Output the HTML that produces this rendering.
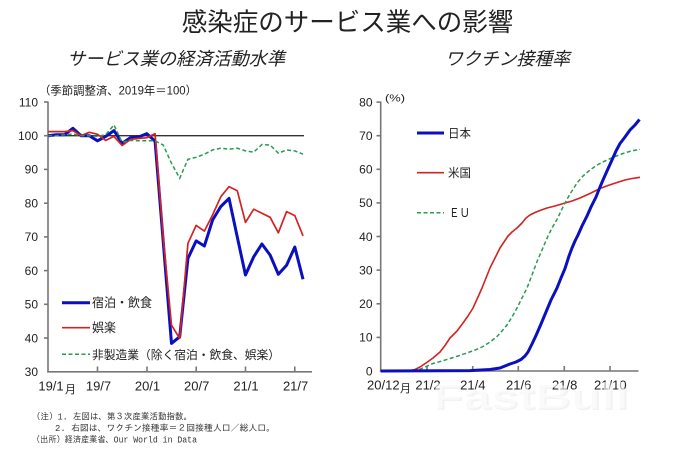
<!DOCTYPE html>
<html>
<head>
<meta charset="utf-8">
<style>
  html, body { margin:0; padding:0; background:#fff; }
  svg { display:block; }
  .num { font-family:"Liberation Sans", Arial, sans-serif; fill:#222; }
  .jp { font-family:"Liberation Sans", "Noto Sans CJK JP", sans-serif; fill:#222; }
  .mono { font-family:"Liberation Mono", "IPAGothic", monospace; fill:#333; }
</style>
</head>
<body>
<svg width="675" height="450" viewBox="0 0 675 450" xmlns="http://www.w3.org/2000/svg">
  <rect x="0" y="0" width="675" height="450" fill="#fff"/>

  <!-- Titles -->
  <text class="jp" x="347.5" y="31" font-size="25.5" text-anchor="middle" fill="#1a1a1a">感染症のサービス業への影響</text>
  <text class="jp" x="176" y="65" font-size="18" text-anchor="middle" font-style="italic" textLength="218" lengthAdjust="spacingAndGlyphs">サービス業の経済活動水準</text>
  <text class="jp" x="507.5" y="65" font-size="18" text-anchor="middle" font-style="italic" textLength="125" lengthAdjust="spacingAndGlyphs">ワクチン接種率</text>

  <!-- ============ LEFT CHART ============ -->
  <text class="jp" x="39" y="94.5" font-size="11.5" textLength="158" lengthAdjust="spacingAndGlyphs">（季節調整済、2019年＝100）</text>

  <!-- y labels -->
  <g class="num" font-size="12" text-anchor="end">
    <text x="38" y="106.3">110</text>
    <text x="38" y="140">100</text>
    <text x="38" y="173.7">90</text>
    <text x="38" y="207.5">80</text>
    <text x="38" y="241.2">70</text>
    <text x="38" y="274.9">60</text>
    <text x="38" y="308.6">50</text>
    <text x="38" y="342.3">40</text>
    <text x="38" y="376.1">30</text>
  </g>
  <!-- axes -->
  <g stroke="#777" stroke-width="1.6" fill="none">
    <line x1="48" y1="101.5" x2="48" y2="372.5"/>
    <line x1="47.2" y1="371.8" x2="312" y2="371.8"/>
    <!-- y ticks -->
    <line x1="44" y1="102" x2="48" y2="102"/>
    <line x1="44" y1="135.7" x2="48" y2="135.7"/>
    <line x1="44" y1="169.4" x2="48" y2="169.4"/>
    <line x1="44" y1="203.2" x2="48" y2="203.2"/>
    <line x1="44" y1="236.9" x2="48" y2="236.9"/>
    <line x1="44" y1="270.6" x2="48" y2="270.6"/>
    <line x1="44" y1="304.3" x2="48" y2="304.3"/>
    <line x1="44" y1="338" x2="48" y2="338"/>
    <!-- x ticks -->
    <line x1="97.5" y1="366.5" x2="97.5" y2="371.8"/>
    <line x1="147" y1="366.5" x2="147" y2="371.8"/>
    <line x1="196.2" y1="366.5" x2="196.2" y2="371.8"/>
    <line x1="245.5" y1="366.5" x2="245.5" y2="371.8"/>
    <line x1="294.8" y1="366.5" x2="294.8" y2="371.8"/>
  </g>
  <!-- x labels -->
  <g class="num" font-size="13" text-anchor="middle">
    <text x="51" y="390.5">19/1</text>
    <text x="98.5" y="390.5">19/7</text>
    <text x="147.5" y="390.5">20/1</text>
    <text x="196.7" y="390.5">20/7</text>
    <text x="246" y="390.5">21/1</text>
    <text x="295.6" y="390.5">21/7</text>
  </g>
  <text class="jp" x="65" y="393" font-size="11">月</text>

  <!-- 100 line -->
  <line x1="48" y1="135.7" x2="304" y2="135.7" stroke="#333" stroke-width="1.3"/>

  <!-- Blue: 宿泊・飲食 -->
  <polyline fill="none" stroke="#0a10c0" stroke-width="3" stroke-linejoin="round"
    points="48.2,135.7 56.42,134.7 64.64,134.7 72.86,128.3 81.08,135.7 89.3,135.7 97.52,140.8 105.74,136.4 113.96,130.6 122.18,143.4 130.4,137.7 138.62,137 146.84,133.7 155.06,141.1 163.28,242.3 171.5,343.4 179.72,336.7 187.94,258.4 196.16,240.9 204.38,246 212.6,220 220.82,206.5 229.04,198.4 237.26,236.9 245.48,275 253.7,256.8 261.92,244 270.14,255.1 278.36,274.3 286.58,265.2 294.8,247 303.02,279.3"/>
  <!-- Red: 娯楽 -->
  <polyline fill="none" stroke="#d42222" stroke-width="1.7" stroke-linejoin="round"
    points="48.2,131.6 56.42,131.6 64.64,131.6 72.86,130.6 81.08,135.7 89.3,132.3 97.52,134.3 105.74,140.4 113.96,136.4 122.18,145.5 130.4,139.4 138.62,138.4 146.84,137.7 155.06,133.7 163.28,238 171.5,325.2 179.72,338.4 187.94,243.3 196.16,225.4 204.38,231.1 212.6,214.9 220.82,196.7 229.04,186.6 237.26,190.7 245.48,222.4 253.7,209.2 261.92,213.3 270.14,217.3 278.36,232.8 286.58,211.6 294.8,215.6 303.02,235.8"/>
  <!-- Green dashed: 非製造業 -->
  <polyline fill="none" stroke="#2a9a52" stroke-width="1.5" stroke-dasharray="4 2.5"
    points="48.2,135.7 56.42,135.7 64.64,134.7 72.86,134 81.08,135.7 89.3,135.7 97.52,136.4 105.74,134.7 113.96,124.9 122.18,142.4 130.4,140.4 138.62,140.8 146.84,140.8 155.06,140.8 163.28,145.1 171.5,163.3 179.72,178.2 187.94,159.3 196.16,157.3 204.38,154.2 212.6,149.9 220.82,148.2 229.04,149.2 237.26,148.2 245.48,150.9 253.7,152.2 261.92,144.5 270.14,145.1 278.36,153.2 286.58,149.9 294.8,150.9 303.02,154.2"/>

  <!-- Left legend -->
  <line x1="62" y1="302.7" x2="90" y2="302.7" stroke="#0a10c0" stroke-width="3"/>
  <text class="jp" x="92" y="307.2" font-size="12.5" textLength="60" lengthAdjust="spacingAndGlyphs">宿泊・飲食</text>
  <line x1="62" y1="327.7" x2="90" y2="327.7" stroke="#d42222" stroke-width="1.7"/>
  <text class="jp" x="92" y="332.2" font-size="12.5" textLength="24" lengthAdjust="spacingAndGlyphs">娯楽</text>
  <line x1="62" y1="354.3" x2="90" y2="354.3" stroke="#2a9a52" stroke-width="1.5" stroke-dasharray="4 2.5"/>
  <text class="jp" x="92" y="358.8" font-size="12" textLength="188" lengthAdjust="spacingAndGlyphs">非製造業（除く宿泊・飲食、娯楽）</text>

  <!-- ============ RIGHT CHART ============ -->
  <text class="jp" x="385" y="101.5" font-size="10" textLength="20" lengthAdjust="spacingAndGlyphs">(%)</text>

  <g class="num" font-size="12" text-anchor="end">
    <text x="372.5" y="106.4">80</text>
    <text x="372.5" y="140">70</text>
    <text x="372.5" y="173.6">60</text>
    <text x="372.5" y="207.2">50</text>
    <text x="372.5" y="240.8">40</text>
    <text x="372.5" y="274.4">30</text>
    <text x="372.5" y="308.1">20</text>
    <text x="372.5" y="341.7">10</text>
    <text x="372.5" y="375.3">0</text>
  </g>
  <g stroke="#777" stroke-width="1.6" fill="none">
    <line x1="380.7" y1="101.5" x2="380.7" y2="371.8"/>
    <line x1="379.9" y1="371" x2="638.5" y2="371"/>
    <line x1="376.5" y1="102.1" x2="380.7" y2="102.1"/>
    <line x1="376.5" y1="135.7" x2="380.7" y2="135.7"/>
    <line x1="376.5" y1="169.3" x2="380.7" y2="169.3"/>
    <line x1="376.5" y1="202.9" x2="380.7" y2="202.9"/>
    <line x1="376.5" y1="236.5" x2="380.7" y2="236.5"/>
    <line x1="376.5" y1="270.1" x2="380.7" y2="270.1"/>
    <line x1="376.5" y1="303.8" x2="380.7" y2="303.8"/>
    <line x1="376.5" y1="337.4" x2="380.7" y2="337.4"/>
    <line x1="427" y1="366" x2="427" y2="371"/>
    <line x1="472.7" y1="366" x2="472.7" y2="371"/>
    <line x1="518.3" y1="366" x2="518.3" y2="371"/>
    <line x1="564.3" y1="366" x2="564.3" y2="371"/>
    <line x1="610" y1="366" x2="610" y2="371"/>
  </g>
  <g class="num" font-size="13" text-anchor="middle">
    <text x="383.3" y="389.5">20/12</text>
    <text x="428" y="389.5">21/2</text>
    <text x="472.8" y="389.5">21/4</text>
    <text x="518.7" y="389.5">21/6</text>
    <text x="564.7" y="389.5">21/8</text>
    <text x="610.3" y="389.5">21/10</text>
  </g>
  <text class="jp" x="400" y="392" font-size="11">月</text>

  <!-- US red -->
  <polyline fill="none" stroke="#d42222" stroke-width="1.6" stroke-linejoin="round"
    points="380.7,371 405,371 410,370.5 415,369.5 420,367 426,363 433,358 440,352 445,345.5 450,338 457,331 463,323 468,316 473,308 478,297 482,288 486,278 490,268 495,258 500,248 504,242 508,236 512,232 517,228 522,223 526,218 530,215 535,212.5 540,210.5 547,208 555,206 565,203 572,201 580,198 590,193.5 600,188.5 608,185.5 617,182.5 625,180 632,178.5 640,177.3"/>
  <!-- EU green dashed -->
  <polyline fill="none" stroke="#2a9a52" stroke-width="1.5" stroke-dasharray="4 2.5"
    points="400,371 417,370.5 425,367 433,363.5 442,361 450,358.5 458,356 467,353 475,350 483,346.5 490,342 497,336.5 502,331 507,325 512,317 517,308 522,298 527,288 532,275 537,261.5 542,250 548,236 552,228 557,219.5 561,211 565,203 570,194 577,183 583,176 590,170 598,164.5 607,160 615,156.5 623,153.5 631,151 640,149.3"/>
  <!-- Japan blue -->
  <polyline fill="none" stroke="#0a10c0" stroke-width="3" stroke-linejoin="round"
    points="380.7,371 470,370.6 490,369.5 500,368 505,366 510,364 516,362 521,359.5 525,356 528,352 532,344 536,335.5 541,324 546,312 551,300 557,288 561,278 565,268.5 569,256 572,248 575,241 578,235 582,226 587,216 591,207 596,197 600,187 603,180 607,171 612,160 616,151 620,143.5 625,137 630,130 635,125 639.5,119.5"/>

  <!-- Right legend -->
  <line x1="417" y1="133" x2="444" y2="133" stroke="#0a10c0" stroke-width="3"/>
  <text class="jp" x="448" y="137.5" font-size="12" textLength="23" lengthAdjust="spacingAndGlyphs">日本</text>
  <line x1="417" y1="172.7" x2="444" y2="172.7" stroke="#d42222" stroke-width="1.6"/>
  <text class="jp" x="448" y="177.2" font-size="12" textLength="23" lengthAdjust="spacingAndGlyphs">米国</text>
  <line x1="417" y1="212.7" x2="444" y2="212.7" stroke="#2a9a52" stroke-width="1.5" stroke-dasharray="4 2.5"/>
  <text class="jp" x="449" y="217.2" font-size="12" textLength="21" lengthAdjust="spacingAndGlyphs">ＥＵ</text>

  <!-- Watermark -->
  <text x="434" y="410" font-family="Liberation Sans, sans-serif" font-weight="bold" font-size="36" fill="#000" fill-opacity="0.05" textLength="196" lengthAdjust="spacingAndGlyphs">FastBull</text>
  <text x="432" y="408.5" font-family="Liberation Sans, sans-serif" font-weight="bold" font-size="36" fill="#fff" fill-opacity="0.6" textLength="196" lengthAdjust="spacingAndGlyphs">FastBull</text>

  <!-- Footnotes -->
  <text class="mono" x="32" y="419.5" font-size="9" textLength="160" lengthAdjust="spacingAndGlyphs">（注）1. 左図は、第３次産業活動指数。</text>
  <text class="mono" x="55" y="431" font-size="9" textLength="220" lengthAdjust="spacingAndGlyphs">2. 右図は、ワクチン接種率＝２回接種人口／総人口。</text>
  <text class="mono" x="32" y="442.5" font-size="9" textLength="165" lengthAdjust="spacingAndGlyphs">（出所）経済産業省、Our World in Data</text>
</svg>
</body>
</html>
